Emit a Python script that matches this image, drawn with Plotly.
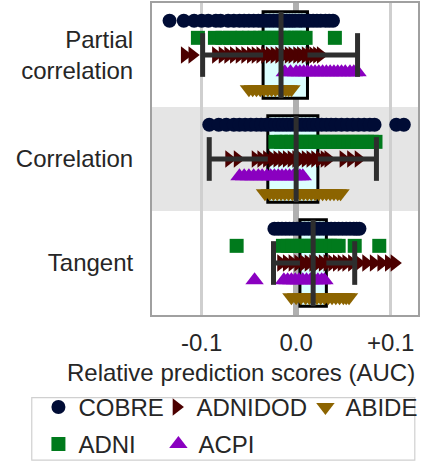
import plotly.graph_objects as go

# ---------------- data ----------------
connectivities = ["Partial<br>correlation", "Correlation", "Tangent"]
datasets = ["COBRE", "ADNI", "ADNIDOD", "ACPI", "ABIDE"]

cobre_partial = [-0.134, -0.119, -0.108, -0.100, -0.093, -0.085, -0.080, -0.072, -0.066,
                 -0.060, -0.055, -0.050, -0.045, -0.040, -0.036, -0.032, -0.028, -0.024,
                 -0.020, -0.017, -0.013, -0.010, -0.007, -0.004, -0.001, 0.003, 0.006,
                 0.010, 0.014, 0.018, 0.022, 0.026, 0.031, 0.035, 0.039]
cobre_correlation = [-0.092, -0.082, -0.074, -0.066, -0.060, -0.054, -0.048, -0.042, -0.037,
                     -0.032, -0.027, -0.022, -0.018, -0.014, -0.010, -0.006, -0.002, 0.002,
                     0.006, 0.010, 0.014, 0.018, 0.022, 0.027, 0.032, 0.037, 0.042, 0.048,
                     0.054, 0.060, 0.066, 0.072, 0.078, 0.083, 0.106, 0.114]
cobre_tangent = [-0.023, -0.019, -0.015, -0.011, -0.007, -0.003, 0.001, 0.005, 0.009, 0.013,
                 0.017, 0.021, 0.025, 0.029, 0.033, 0.037, 0.041, 0.045, 0.049, 0.053, 0.057,
                 0.061, 0.064, 0.067]

adni_partial = [-0.104, -0.086, -0.078, -0.070, -0.063, -0.057, -0.050, -0.044, -0.038,
                -0.033, -0.028, -0.023, -0.018, -0.013, -0.009, -0.005, -0.001, 0.003,
                0.006, 0.010, 0.041]
adni_correlation = [-0.022, -0.016, -0.010, -0.005, 0.000, 0.005, 0.010, 0.015, 0.020, 0.025,
                    0.030, 0.035, 0.040, 0.045, 0.050, 0.055, 0.060, 0.065, 0.070, 0.075,
                    0.080, 0.084]
adni_tangent = [-0.063, -0.014, -0.009, -0.004, 0.001, 0.006, 0.011, 0.016, 0.021, 0.026,
                0.031, 0.036, 0.041, 0.045, 0.062, 0.088]

adnidod_partial = [-0.118, -0.110, -0.085, -0.078, -0.072, -0.066, -0.060, -0.054, -0.048,
                   -0.043, -0.038, -0.033, -0.028, -0.023, -0.018, -0.013, -0.008, -0.004,
                   0.001, 0.005, 0.010, 0.014, 0.018, 0.022, 0.026]
adnidod_correlation = [-0.071, -0.062, -0.043, -0.037, -0.031, -0.025, -0.020, -0.015, -0.010,
                       -0.005, 0.000, 0.005, 0.010, 0.015, 0.020, 0.025, 0.030, 0.034, 0.050,
                       0.058, 0.066]
adnidod_tangent = [-0.016, -0.010, -0.004, 0.002, 0.008, 0.013, 0.018, 0.023, 0.028, 0.033,
                   0.038, 0.043, 0.048, 0.053, 0.059, 0.066, 0.074, 0.082, 0.090, 0.098, 0.104]

acpi_partial = [-0.012, -0.006, 0.000, 0.004, 0.008, 0.012, 0.016, 0.020, 0.024, 0.028,
                0.032, 0.036, 0.040, 0.044, 0.048, 0.052, 0.057, 0.061, 0.065]
acpi_correlation = [-0.060, -0.055, -0.050, -0.045, -0.040, -0.036, -0.031, -0.027, -0.023,
                    -0.019, -0.015, -0.011, -0.007, -0.003, 0.001, 0.004, 0.007]
acpi_tangent = [-0.044, -0.013, -0.009, -0.005, -0.001, 0.003, 0.007, 0.011, 0.015, 0.019,
                0.023, 0.027, 0.030]

abide_partial = [-0.050, -0.046, -0.042, -0.038, -0.034, -0.030, -0.026, -0.022, -0.018,
                 -0.014, -0.011, -0.008, -0.005]
abide_correlation = [-0.033, -0.028, -0.024, -0.020, -0.016, -0.012, -0.008, -0.004, 0.000,
                     0.004, 0.008, 0.012, 0.016, 0.020, 0.024, 0.028, 0.032, 0.036, 0.040,
                     0.044, 0.047]
abide_tangent = [-0.005, 0.000, 0.005, 0.010, 0.014, 0.018, 0.022, 0.026, 0.030, 0.034,
                 0.038, 0.042, 0.046, 0.050, 0.053, 0.056]

# box-plot summary per connectivity
box_q1 = [-0.035, -0.030, 0.004]
box_median = [-0.016, 0.000, 0.018]
box_q3 = [0.012, 0.023, 0.032]
whisker_low = [-0.099, -0.092, -0.024]
whisker_high = [0.065, 0.085, 0.062]

x_tickvals = [-0.1, 0.0, 0.1]
x_ticktext = ["-0.1", "0.0", "+0.1"]

scores = {
    "COBRE": [cobre_partial, cobre_correlation, cobre_tangent],
    "ADNI": [adni_partial, adni_correlation, adni_tangent],
    "ADNIDOD": [adnidod_partial, adnidod_correlation, adnidod_tangent],
    "ACPI": [acpi_partial, acpi_correlation, acpi_tangent],
    "ABIDE": [abide_partial, abide_correlation, abide_tangent],
}

# ---------------- style ----------------
FONT = "Liberation Sans, Arial, sans-serif"
TXT = "#262626"
colors = {"COBRE": "#000c35", "ADNI": "#007a1c", "ADNIDOD": "#4c0000",
          "ACPI": "#8a00c0", "ABIDE": "#8c6400"}
symbols = {"COBRE": "circle", "ADNI": "square", "ADNIDOD": "triangle-right",
           "ACPI": "triangle-up", "ABIDE": "triangle-down"}
marker_size = {"COBRE": 14, "ADNI": 14, "ADNIDOD": 15, "ACPI": 16, "ABIDE": 16}
# legend layout: first row COBRE / ADNIDOD / ABIDE, second row ADNI / ACPI
legend_of = {"COBRE": "legend", "ADNIDOD": "legend", "ABIDE": "legend",
             "ADNI": "legend2", "ACPI": "legend2"}
legend_rank = {"COBRE": 1, "ADNIDOD": 2, "ABIDE": 3, "ADNI": 1, "ACPI": 2}
legend_w = {"COBRE": 73, "ADNIDOD": 104, "ABIDE": None, "ADNI": 75, "ACPI": None}
hue_offset = {"COBRE": -0.33, "ADNI": -0.165, "ADNIDOD": 0.0, "ACPI": 0.165, "ABIDE": 0.33}
BOX_HALF = 0.415
CAP_HALF = 0.21

fig = go.Figure()

for ds in datasets:
    xs, ys = [], []
    for r, vals in enumerate(scores[ds]):
        xs.extend(vals)
        ys.extend([r + hue_offset[ds]] * len(vals))
    tr = dict(
        x=xs, y=ys, mode="markers", name=ds, legend=legend_of[ds],
        legendrank=legend_rank[ds],
        marker=dict(symbol=symbols[ds], color=colors[ds], size=marker_size[ds],
                    line=dict(width=0)),
        hoverinfo="x+name",
    )
    if legend_w[ds]:
        tr["legendwidth"] = legend_w[ds]
    fig.add_trace(go.Scatter(**tr))

shapes = [dict(type="rect", xref="paper", x0=0, x1=1, yref="y", y0=0.5, y1=1.5,
               fillcolor="#e5e5e5", line=dict(width=0), layer="below")]
GRAY = "#2e2e2e"
for r in range(len(connectivities)):
    shapes.append(dict(type="rect", xref="x", yref="y", x0=box_q1[r], x1=box_q3[r],
                       y0=r - BOX_HALF, y1=r + BOX_HALF, fillcolor="#dcffff",
                       line=dict(color="black", width=3), layer="between"))
    for (a, b) in [(whisker_low[r], box_q1[r]), (box_q3[r], whisker_high[r])]:
        shapes.append(dict(type="line", xref="x", yref="y", x0=a, x1=b, y0=r, y1=r,
                           line=dict(color=GRAY, width=5), layer="above"))
    for w in (whisker_low[r], whisker_high[r]):
        shapes.append(dict(type="line", xref="x", yref="y", x0=w, x1=w,
                           y0=r - CAP_HALF, y1=r + CAP_HALF,
                           line=dict(color=GRAY, width=5), layer="above"))
    shapes.append(dict(type="line", xref="x", yref="y", x0=box_median[r], x1=box_median[r],
                       y0=r - BOX_HALF, y1=r + BOX_HALF,
                       line=dict(color=GRAY, width=5), layer="above"))

# frame around the two legend rows
shapes.append(dict(type="rect", xref="paper", yref="paper", x0=-0.452, x1=0.988,
                   y0=-0.465, y1=-0.265, line=dict(color="#d0d0d0", width=1.2),
                   fillcolor="rgba(0,0,0,0)", layer="above"))

legend_common = dict(orientation="h", xanchor="left", yanchor="top",
                     borderwidth=0, bgcolor="rgba(0,0,0,0)",
                     font=dict(family=FONT, size=24, color=TXT))

fig.update_layout(
    width=426, height=461,
    margin=dict(l=152, r=8, t=3, b=146, autoexpand=False),
    paper_bgcolor="white", plot_bgcolor="white",
    font=dict(family=FONT, size=24, color=TXT),
    shapes=shapes,
    showlegend=True,
    legend=dict(x=-0.427, y=-0.224, **legend_common),
    legend2=dict(x=-0.427, y=-0.343, **legend_common),
    annotations=[dict(text="Relative prediction scores (AUC)", xref="paper", yref="paper",
                      x=0.996, y=-0.183, xanchor="right", yanchor="middle",
                      showarrow=False, font=dict(family=FONT, size=24, color=TXT))],
)
fig.update_xaxes(range=[-0.1526, 0.129], tickvals=x_tickvals, ticktext=x_ticktext,
                 showgrid=True, gridcolor="#cfcfcf", gridwidth=2.5,
                 zeroline=True, zerolinecolor="#b0b0b0", zerolinewidth=6,
                 showline=True, linecolor="#a0a0a0", linewidth=2, mirror=True,
                 ticks="", ticklabelstandoff=5, tickfont=dict(size=24, color=TXT))
fig.update_yaxes(range=[2.5, -0.5], tickvals=[0, 1, 2], ticktext=connectivities,
                 showgrid=False, zeroline=False,
                 showline=True, linecolor="#a0a0a0", linewidth=2, mirror=True,
                 ticks="", ticklabelstandoff=12, tickfont=dict(size=24, color=TXT))

fig.write_html("out.html")
